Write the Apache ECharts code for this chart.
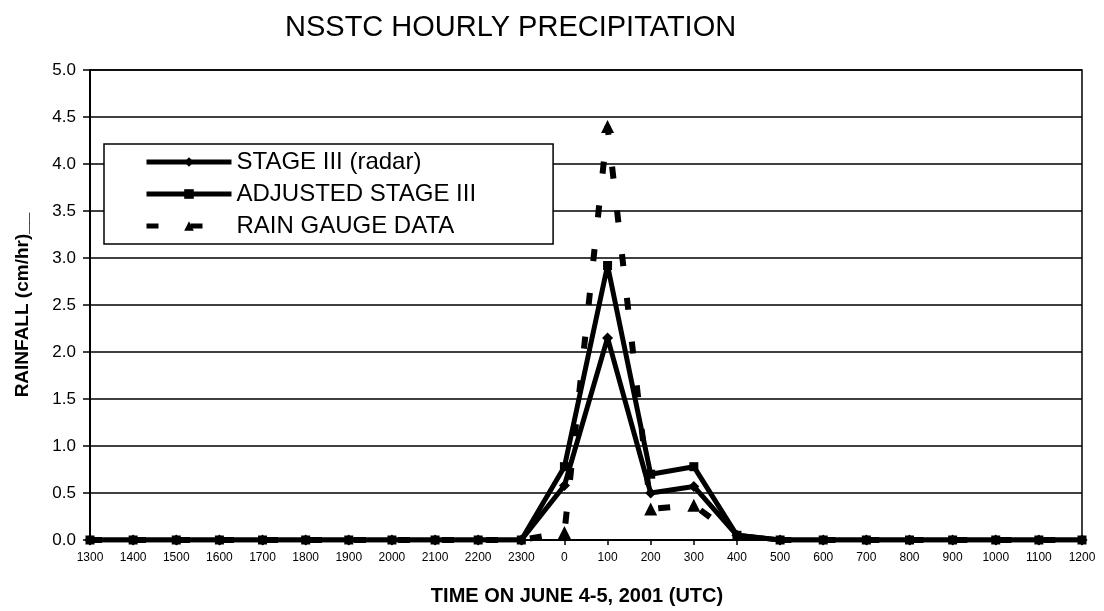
<!DOCTYPE html>
<html>
<head>
<meta charset="utf-8">
<script src="https://cdn.jsdelivr.net/npm/echarts@6/dist/echarts.min.js"></script>
<style>
html, body { margin: 0; padding: 0; background: #fff; }
#precipChart { width: 1104px; height: 611px; }
</style>
</head>
<body>
<div id="precipChart"></div>
<script>
// hours, June 4-5 2001 (UTC)
var hours = ['1300', '1400', '1500', '1600', '1700', '1800', '1900', '2000', '2100', '2200', '2300',
	'0', '100', '200', '300', '400', '500', '600', '700', '800', '900', '1000', '1100', '1200'];

// cm/hr
var stageRadar = [0, 0, 0, 0, 0, 0, 0, 0, 0, 0, 0,
	0.58, 2.15, 0.5, 0.57, 0.05, 0, 0, 0, 0, 0, 0, 0, 0];
var stageAdjusted = [0, 0, 0, 0, 0, 0, 0, 0, 0, 0, 0,
	0.78, 2.92, 0.7, 0.78, 0.05, 0, 0, 0, 0, 0, 0, 0, 0];
var rainGauge = [0, 0, 0, 0, 0, 0, 0, 0, 0, 0, 0,
	0.08, 4.4, 0.33, 0.37, 0.03, 0, 0, 0, 0, 0, 0, 0, 0];

var yTicks = { min: 0, max: 5, step: 0.5 };

var font = 'Liberation Sans, Arial, sans-serif';
var chart = echarts.init(document.getElementById('precipChart'));

chart.setOption({
	animation: false,
	backgroundColor: '#fff',
	textStyle: { fontFamily: font, color: '#000' },
	title: {
		text: 'NSSTC HOURLY PRECIPITATION',
		left: 280,
		top: 8,
		textStyle: { fontFamily: font, fontSize: 29, fontWeight: 'normal', color: '#000' }
	},
	legend: {
		orient: 'vertical',
		left: 104,
		top: 144,
		padding: [6, 77, 6, 40],
		itemWidth: 85,
		itemHeight: 12,
		itemGap: 8,
		backgroundColor: '#fff',
		borderColor: '#000',
		borderWidth: 1.5,
		lineStyle: { width: 5 },
		textStyle: { fontFamily: font, fontSize: 24, color: '#000' },
		data: ['STAGE III (radar)', 'ADJUSTED STAGE III', 'RAIN GAUGE DATA']
	},
	grid: {
		left: 90,
		right: 22,
		top: 70,
		bottom: 69,
		show: true,
		borderColor: '#000',
		borderWidth: 1.5
	},
	xAxis: {
		type: 'category',
		data: hours,
		boundaryGap: false,
		axisLine: { lineStyle: { color: '#000', width: 2 } },
		axisTick: { show: true, length: 5, lineStyle: { color: '#000', width: 1.5 } },
		axisLabel: { interval: 0, fontSize: 12, margin: 12, color: '#000', fontFamily: font },
		splitLine: { show: false },
		name: 'TIME ON JUNE 4-5, 2001 (UTC)',
		nameLocation: 'middle',
		nameGap: 46,
		nameTextStyle: { fontFamily: font, fontSize: 20, fontWeight: 'bold', color: '#000', padding: [0, 18, 0, 0] }
	},
	yAxis: {
		type: 'value',
		min: yTicks.min,
		max: yTicks.max,
		interval: yTicks.step,
		axisLine: { show: true, lineStyle: { color: '#000', width: 2 } },
		axisTick: { show: true, length: 7, lineStyle: { color: '#000', width: 1.5 } },
		axisLabel: {
			fontSize: 17,
			margin: 14,
			color: '#000',
			fontFamily: font,
			formatter: function(v) { return v.toFixed(1); }
		},
		splitLine: { show: true, lineStyle: { color: '#000', width: 1.5 } },
		name: 'RAINFALL (cm/hr)__',
		nameLocation: 'middle',
		nameGap: 58,
		nameTextStyle: { fontFamily: font, fontSize: 19, fontWeight: 'bold', color: '#000' }
	},
	series: [{
		name: 'RAIN GAUGE DATA',
		type: 'line',
		data: rainGauge,
		symbol: 'triangle',
		symbolSize: function(v) { return v > 0.05 ? 13 : 0; },
		itemStyle: { color: '#000' },
		lineStyle: { color: '#000', width: 6, type: [12, 32] }
	}, {
		name: 'STAGE III (radar)',
		type: 'line',
		data: stageRadar,
		symbol: 'diamond',
		symbolSize: 11,
		itemStyle: { color: '#000' },
		lineStyle: { color: '#000', width: 5 }
	}, {
		name: 'ADJUSTED STAGE III',
		type: 'line',
		data: stageAdjusted,
		symbol: 'rect',
		symbolSize: 9,
		itemStyle: { color: '#000' },
		lineStyle: { color: '#000', width: 5 }
	}]
});
</script>
</body>
</html>
